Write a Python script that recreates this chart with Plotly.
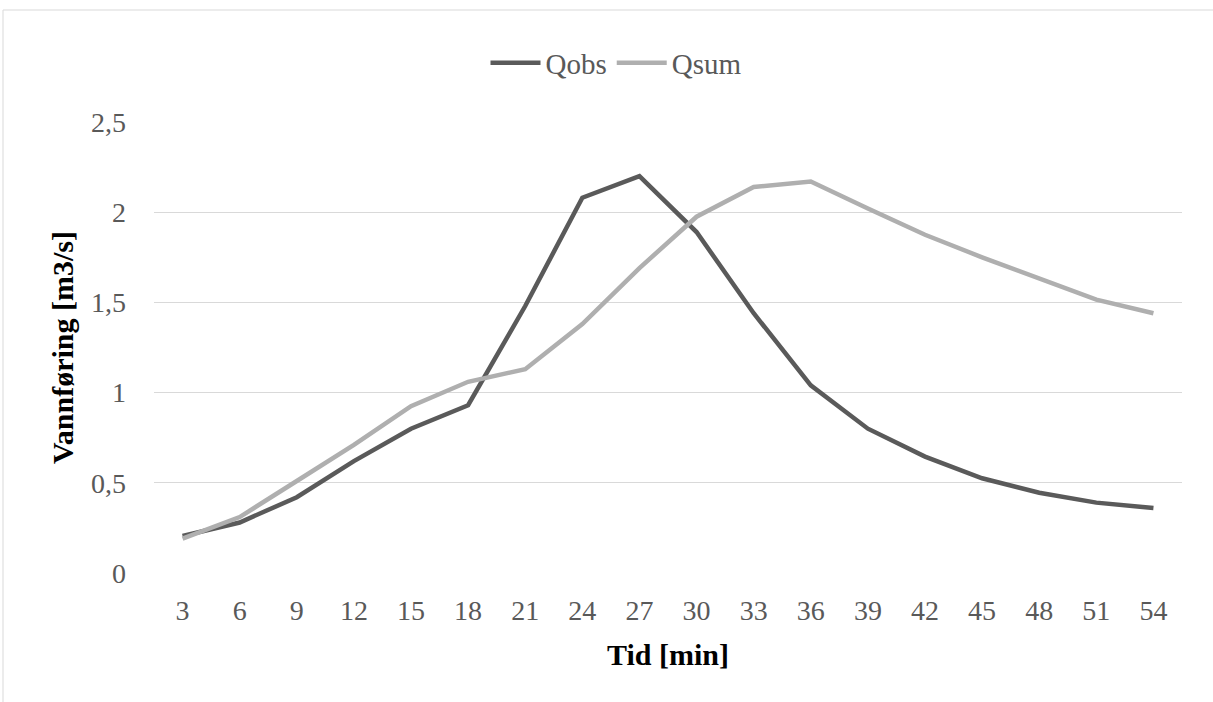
import plotly.graph_objects as go

tid = ["3", "6", "9", "12", "15", "18", "21", "24", "27", "30", "33", "36", "39", "42", "45", "48", "51", "54"]
qobs = [0.205, 0.28, 0.42, 0.62, 0.80, 0.93, 1.48, 2.08, 2.20, 1.89, 1.44, 1.04, 0.80, 0.645, 0.525, 0.445, 0.39, 0.36]
qsum = [0.19, 0.31, 0.51, 0.71, 0.925, 1.06, 1.13, 1.38, 1.69, 1.975, 2.14, 2.17, 2.02, 1.875, 1.75, 1.63, 1.515, 1.44]

font_family = "Liberation Serif, Times New Roman, serif"

fig = go.Figure()
fig.add_trace(go.Scatter(x=tid, y=qobs, mode="lines", name="Qobs",
                         line=dict(color="#5a5a5a", width=4.5)))
fig.add_trace(go.Scatter(x=tid, y=qsum, mode="lines", name="Qsum",
                         line=dict(color="#afafaf", width=4.5)))

fig.update_layout(
    width=1213, height=702,
    margin=dict(l=154, r=31, t=122, b=129),
    paper_bgcolor="white", plot_bgcolor="white",
    font=dict(family=font_family, size=28, color="#595959"),
    separators=",.",
    legend=dict(orientation="h", x=(616 - 154) / 1028, xanchor="center", y=1.131, yanchor="middle",
                font=dict(family=font_family, size=29, color="#595959"), itemwidth=50),
    xaxis=dict(type="category", range=[-0.5, 17.5], showgrid=False, zeroline=False,
               showline=False, ticks="", ticklabelstandoff=18,
               tickfont=dict(size=28, color="#595959"),
               title=dict(text="<b>Tid [min]</b>", font=dict(size=30, color="black"), standoff=18)),
    yaxis=dict(range=[0, 2.5], tickvals=[0, 0.5, 1, 1.5, 2, 2.5],
               ticktext=["0", "0,5", "1", "1,5", "2", "2,5"],
               showgrid=True, gridcolor="#d9d9d9", gridwidth=1, zeroline=False,
               showline=False, ticks="", ticklabelstandoff=27,
               tickfont=dict(size=28, color="#595959"),
               title=dict(text="<b>Vannføring [m3/s]</b>", font=dict(size=30, color="black"), standoff=8)),
    shapes=[dict(type="rect", xref="paper", yref="paper",
                 x0=(3 - 154) / 1028, x1=1.2, y0=-0.5, y1=1 + (122 - 10) / 451,
                 line=dict(color="#d9d9d9", width=1), fillcolor="rgba(0,0,0,0)", layer="below")],
)

fig.write_html("out.html", config={"displayModeBar": False},
               post_script="document.body.style.margin='0px';")
